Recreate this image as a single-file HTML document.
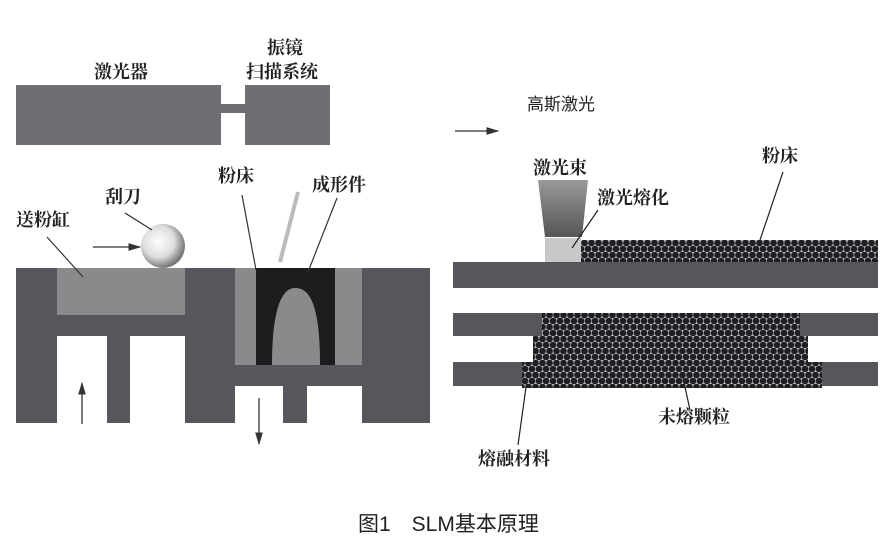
<!DOCTYPE html>
<html><head><meta charset="utf-8"><style>
html,body{margin:0;padding:0;background:#fff;}
svg{display:block}
text{font-family:"Liberation Serif","Noto Serif CJK SC",serif;font-size:18px;fill:#222;font-weight:bold}
</style></head><body>
<svg width="895" height="547" viewBox="0 0 895 547" xmlns="http://www.w3.org/2000/svg">
<defs>
<pattern id="pp2" width="7" height="12" patternUnits="userSpaceOnUse">
<rect width="7" height="12" fill="#b8b8b8"/>
<circle cx="3.5" cy="3" r="3.3" fill="#1e1f22"/>
<circle cx="0" cy="9" r="3.3" fill="#1e1f22"/>
<circle cx="7" cy="9" r="3.3" fill="#1e1f22"/>
</pattern>
<radialGradient id="ball" cx="0.4" cy="0.4" r="0.6"><stop offset="0" stop-color="#fff"/><stop offset="0.6" stop-color="#ddd"/><stop offset="1" stop-color="#777"/></radialGradient>
<linearGradient id="beam" x1="0" y1="0" x2="0" y2="1"><stop offset="0" stop-color="#999"/><stop offset="1" stop-color="#555"/></linearGradient>
<marker id="ah" markerWidth="10" markerHeight="6" refX="9" refY="3" orient="auto"><path d="M0,0 L10,3 L0,6 Z" fill="#333"/></marker>
</defs>
<rect x="16" y="85" width="205" height="60" fill="#6e6f73"/>
<rect x="221" y="104" width="24" height="9" fill="#6e6f73"/>
<rect x="245" y="85" width="85" height="60" fill="#6e6f73"/>
<text x="94" y="78">激光器</text>
<text x="267" y="54">振镜</text>
<text x="246" y="78">扫描系统</text>
<line x1="455" y1="131" x2="498" y2="131" stroke="#333" stroke-width="1.3" marker-end="url(#ah)"/>
<text x="527" y="110" style="font-weight:normal;font-family:'Liberation Sans','Noto Sans CJK SC',sans-serif;font-size:17px">高斯激光</text>
<rect x="16" y="268" width="414" height="155" fill="#56575c"/>
<rect x="57" y="268" width="128" height="47" fill="#8a8a8d"/>
<rect x="57" y="336" width="50" height="88" fill="#fff"/>
<rect x="130" y="336" width="55" height="88" fill="#fff"/>
<rect x="235" y="268" width="127" height="97" fill="#8a8a8d"/>
<rect x="256" y="268" width="79" height="97" fill="#1d1d1f"/>
<path d="M272,365 C272,300 285,288 295,288 C308,288 320,300 320,365 Z" fill="#8a8a8d"/>
<rect x="235" y="386" width="48" height="38" fill="#fff"/>
<rect x="307" y="386" width="55" height="38" fill="#fff"/>
<circle cx="163" cy="246" r="22" fill="url(#ball)"/>
<line x1="93" y1="247" x2="140" y2="247" stroke="#333" stroke-width="1.3" marker-end="url(#ah)"/>
<line x1="82" y1="424" x2="82" y2="383" stroke="#333" stroke-width="1.3" marker-end="url(#ah)"/>
<line x1="259" y1="398" x2="259" y2="444" stroke="#333" stroke-width="1.3" marker-end="url(#ah)"/>
<line x1="298" y1="192" x2="280" y2="262" stroke="#bbb" stroke-width="4"/>
<line x1="47" y1="237" x2="83" y2="277" stroke="#333" stroke-width="1.2"/>
<line x1="125" y1="213" x2="152" y2="230" stroke="#333" stroke-width="1.2"/>
<line x1="242" y1="195" x2="256" y2="270" stroke="#333" stroke-width="1.2"/>
<line x1="337" y1="198" x2="308" y2="272" stroke="#333" stroke-width="1.2"/>
<text x="16" y="226">送粉缸</text>
<text x="105" y="203">刮刀</text>
<text x="218" y="182">粉床</text>
<text x="312" y="191">成形件</text>
<rect x="453" y="262" width="425" height="26" fill="#56575c"/>
<rect x="453" y="313" width="425" height="23" fill="#56575c"/>
<rect x="453" y="362" width="425" height="24" fill="#56575c"/>
<rect x="580" y="240" width="298" height="22" fill="url(#pp2)"/>
<rect x="542" y="313" width="258" height="24" fill="url(#pp2)"/>
<rect x="533" y="336" width="275" height="26" fill="url(#pp2)"/>
<rect x="522" y="362" width="300" height="26" fill="url(#pp2)"/>
<rect x="545" y="238" width="36" height="24" fill="#c8c8c8"/>
<path d="M538,180 L588,180 L582,237 L545,237 Z" fill="url(#beam)"/>
<line x1="598" y1="210" x2="572" y2="248" stroke="#222" stroke-width="1.2"/>
<line x1="783" y1="172" x2="760" y2="240" stroke="#222" stroke-width="1.2"/>
<line x1="690" y1="410" x2="683" y2="378" stroke="#222" stroke-width="1.2"/>
<line x1="518" y1="445" x2="527" y2="380" stroke="#222" stroke-width="1.2"/>
<text x="533" y="174">激光束</text>
<text x="597" y="204">激光熔化</text>
<text x="762" y="162">粉床</text>
<text x="658" y="423">未熔颗粒</text>
<text x="478" y="465">熔融材料</text>
<text x="358" y="531" style="font-family:'Liberation Sans','Noto Sans CJK SC',sans-serif;font-size:21px;font-weight:normal">图1　SLM基本原理</text>
</svg>
</body></html>
